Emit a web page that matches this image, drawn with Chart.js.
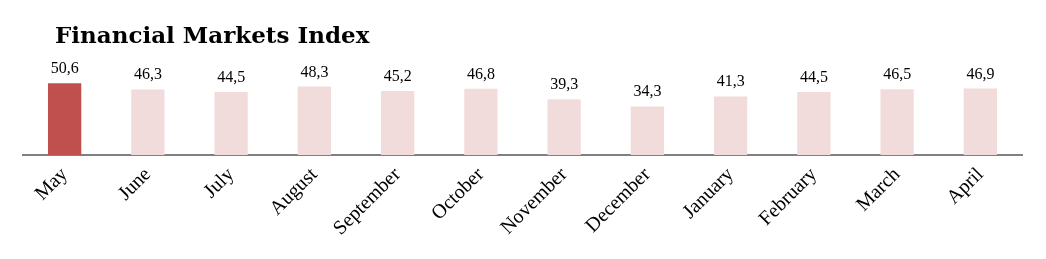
<!DOCTYPE html>
<html>
<head>
<meta charset="utf-8">
<script src="https://cdn.jsdelivr.net/npm/chart.js@4"></script>
<style>
  html, body { margin: 0; padding: 0; background: #fff; }
</style>
</head>
<body>
<canvas id="chart" width="1046" height="259"></canvas>
<script>
const months = ['May', 'June', 'July', 'August', 'September', 'October', 'November', 'December', 'January', 'February', 'March', 'April'];
const indexValues = [50.6, 46.3, 44.5, 48.3, 45.2, 46.8, 39.3, 34.3, 41.3, 44.5, 46.5, 46.9];
const chartTitle = 'Financial Markets Index';

const serif = "'Liberation Serif', 'DejaVu Serif', serif";

// first bar highlighted, the rest pale
const barColors = indexValues.map((v, i) => i === 0 ? '#C0504D' : '#F2DCDB');

// value labels over the bars + title text
const labelPlugin = {
    id: 'valueLabels',
    afterDatasetsDraw(chart) {
        const ctx = chart.ctx;
        const meta = chart.getDatasetMeta(0);
        ctx.save();
        ctx.fillStyle = '#000';
        ctx.font = "16px " + serif;
        ctx.textAlign = 'center';
        ctx.textBaseline = 'alphabetic';
        meta.data.forEach((bar, i) => {
            ctx.fillText(indexValues[i].toFixed(1).replace('.', ','), bar.x, bar.y - 10);
        });
        ctx.font = "bold 23px 'DejaVu Serif', serif";
        ctx.textAlign = 'left';
        ctx.fillText(chartTitle, 55, 43);
        ctx.restore();
    }
};

new Chart(document.getElementById('chart'), {
    type: 'bar',
    data: {
        labels: months,
        datasets: [{
            data: indexValues,
            backgroundColor: barColors,
            barPercentage: 0.4,
            categoryPercentage: 1.0
        }]
    },
    options: {
        responsive: false,
        animation: false,
        layout: {
            padding: { left: 23, right: 24, top: 70, bottom: 0 }
        },
        plugins: {
            legend: { display: false },
            tooltip: { enabled: false },
            title: { display: false }
        },
        scales: {
            x: {
                afterFit: scale => { scale.height = 104; },
                grid: { display: false, drawTicks: false },
                border: { display: true, color: '#808080', width: 2 },
                ticks: {
                    color: '#000',
                    font: { family: serif, size: 20 },
                    minRotation: 45,
                    maxRotation: 45,
                    padding: 8
                }
            },
            y: {
                display: false,
                min: 0,
                max: 60
            }
        }
    },
    plugins: [labelPlugin]
});
</script>
</body>
</html>
